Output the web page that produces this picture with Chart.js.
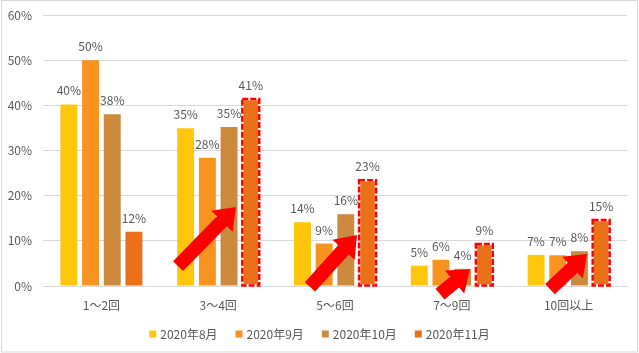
<!DOCTYPE html>
<html>
<head>
<meta charset="utf-8">
<script src="https://cdn.jsdelivr.net/npm/chart.js@4/dist/chart.umd.min.js"></script>
<style>
  html, body { margin: 0; padding: 0; background: #fff; }
  #wrap { position: relative; width: 639px; height: 353px; }
</style>
</head>
<body>
<div id="wrap"><canvas id="chart"></canvas></div>
<script>
// data
const categories = ['1～2回', '3～4回', '5～6回', '7～9回', '10回以上'];
const seriesNames = ['2020年8月', '2020年9月', '2020年10月', '2020年11月'];
const aug = [40.2, 34.9, 14.1, 4.5, 6.9];
const sep = [50.0, 28.4, 9.4, 5.8, 6.8];
const oct = [38.0, 35.2, 15.9, 3.8, 7.7];
const nov = [12.0, 41.4, 23.4, 9.3, 14.6];
const yTicks = [0, 10, 20, 30, 40, 50, 60];

// November bars that get the red dashed frame (category index)
const highlighted = [1, 2, 3, 4];

// red arrows, in axis units: category index + offset (fraction of a category), y in %
const arrows = [
    { cat: 1, x0: -0.344, y0: 4.4, x1: 0.152, y1: 17.5 },
    { cat: 2, x0: -0.214, y0: -0.2, x1: 0.188, y1: 11.3 },
    { cat: 3, x0: -0.101, y0: -1.8, x1: 0.156, y1: 3.7 },
    { cat: 4, x0: -0.159, y0: -0.7, x1: 0.158, y1: 7.1 }
];

const colors = ['#FFC60B', '#F7931E', '#CD8A3F', '#EA7119'];
const textColor = '#595959';
const fontFamily = "'Noto Sans CJK JP', 'Noto Sans', sans-serif";

Chart.defaults.font.family = fontFamily;
Chart.defaults.font.size = 12;
Chart.defaults.color = textColor;

function drawArrow(ctx, x0, y0, x1, y1) {
    const shaftW = 14, headW = 30, headL = 20;
    const len = Math.hypot(x1 - x0, y1 - y0);
    const ux = (x1 - x0) / len, uy = (y1 - y0) / len;
    const px = -uy, py = ux;
    const nx = x1 - ux * headL, ny = y1 - uy * headL;
    ctx.beginPath();
    ctx.moveTo(x0 + px * shaftW / 2, y0 + py * shaftW / 2);
    ctx.lineTo(nx + px * shaftW / 2, ny + py * shaftW / 2);
    ctx.lineTo(nx + px * headW / 2, ny + py * headW / 2);
    ctx.lineTo(x1, y1);
    ctx.lineTo(nx - px * headW / 2, ny - py * headW / 2);
    ctx.lineTo(nx - px * shaftW / 2, ny - py * shaftW / 2);
    ctx.lineTo(x0 - px * shaftW / 2, y0 - py * shaftW / 2);
    ctx.closePath();
    ctx.fillStyle = '#FF0000';
    ctx.fill();
}

const extras = {
    id: 'extras',
    beforeDraw(chart) {
        const ctx = chart.ctx;
        ctx.save();
        ctx.strokeStyle = '#D9D9D9';
        ctx.lineWidth = 1;
        ctx.strokeRect(1.5, 0.5, 636, 351.5);
        ctx.restore();
    },
    afterDatasetsDraw(chart) {
        const ctx = chart.ctx;
        const xs = chart.scales.x, ys = chart.scales.y;
        ctx.save();

        // dashed frames on highlighted November bars
        const novMeta = chart.getDatasetMeta(3);
        highlighted.forEach(i => {
            const bar = novMeta.data[i];
            const left = bar.x - bar.width / 2, top = bar.y;
            const w = bar.width, h = bar.base - bar.y;
            ctx.lineWidth = 2.5;
            ctx.setLineDash([]);
            ctx.strokeStyle = '#FFFFFF';
            ctx.strokeRect(left, top, w, h);
            ctx.setLineDash([6, 2]);
            ctx.strokeStyle = '#FF0000';
            ctx.strokeRect(left, top, w, h);
        });
        ctx.setLineDash([]);

        // arrows
        const catW = xs.getPixelForValue(1) - xs.getPixelForValue(0);
        arrows.forEach(a => {
            const cx = xs.getPixelForValue(a.cat);
            drawArrow(ctx, cx + a.x0 * catW, ys.getPixelForValue(a.y0),
                      cx + a.x1 * catW, ys.getPixelForValue(a.y1));
        });

        // value labels
        ctx.fillStyle = textColor;
        ctx.font = '12px ' + fontFamily;
        ctx.textAlign = 'center';
        ctx.textBaseline = 'alphabetic';
        chart.data.datasets.forEach((ds, di) => {
            chart.getDatasetMeta(di).data.forEach((bar, i) => {
                ctx.fillText(Math.round(ds.data[i]) + '%', bar.x, bar.y - 9);
            });
        });

        // legend, centred under the chart
        const boxSize = 7, boxGap = 4, itemGap = 18, legendY = 334;
        const widths = seriesNames.map(n => ctx.measureText(n).width);
        const total = widths.reduce((s, w) => s + w + boxSize + boxGap, 0) + itemGap * (seriesNames.length - 1);
        let x = chart.width / 2 - total / 2;
        ctx.textAlign = 'left';
        ctx.textBaseline = 'middle';
        seriesNames.forEach((n, i) => {
            ctx.fillStyle = colors[i];
            ctx.fillRect(x, legendY - boxSize / 2, boxSize, boxSize);
            x += boxSize + boxGap;
            ctx.fillStyle = textColor;
            ctx.fillText(n, x, legendY);
            x += widths[i] + itemGap;
        });
        ctx.restore();
    }
};

const seriesData = [aug, sep, oct, nov];

new Chart(document.getElementById('chart'), {
    type: 'bar',
    data: {
        labels: categories,
        datasets: seriesNames.map((name, i) => ({
            label: name,
            data: seriesData[i],
            backgroundColor: colors[i],
            borderWidth: 0,
            categoryPercentage: 0.743,
            barPercentage: 0.78
        }))
    },
    options: {
        responsive: true,
        maintainAspectRatio: false,
        animation: false,
        layout: { padding: { left: 0, right: 12, top: 15, bottom: 28.6 } },
        plugins: {
            tooltip: { enabled: false },
            legend: { display: false }
        },
        scales: {
            x: {
                grid: { display: false, drawTicks: false },
                border: { color: '#D9D9D9' },
                ticks: { padding: 12, color: textColor, font: { size: 12 } }
            },
            y: {
                min: 0,
                max: 60,
                afterFit: s => { s.width = 43; s.paddingTop = 7; },
                afterBuildTicks: s => { s.ticks = yTicks.map(v => ({ value: v })); },
                grid: { color: '#D9D9D9', drawTicks: false },
                border: { display: false },
                ticks: {
                    padding: 11,
                    color: textColor,
                    font: { size: 12 },
                    callback: v => v + '%'
                }
            }
        }
    },
    plugins: [extras]
});
</script>
</body>
</html>
